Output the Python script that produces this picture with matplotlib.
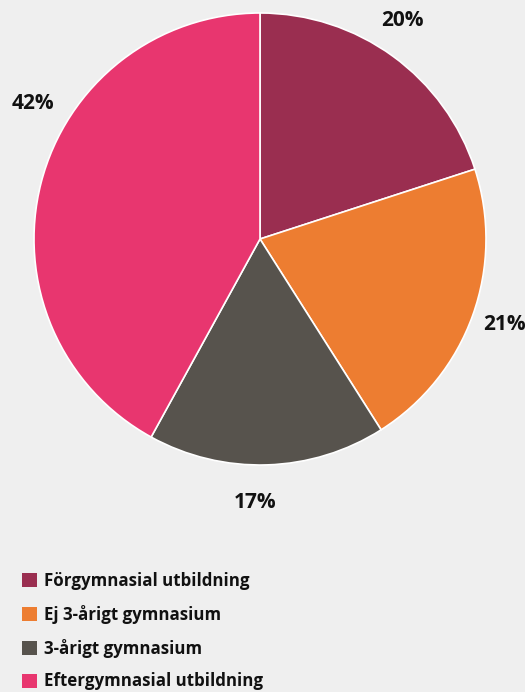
import matplotlib.pyplot as plt
from matplotlib.patches import Patch

labels = ["Förgymnasial utbildning", "Ej 3-årigt gymnasium",
          "3-årigt gymnasium", "Eftergymnasial utbildning"]
values = [20, 21, 17, 42]
colors = ["#9a2e50", "#ed7d31", "#57534d", "#e8366f"]

bg = "#efefef"
plt.rcParams["font.family"] = ["Open Sans", "DejaVu Sans"]

fig = plt.figure(figsize=(5.25, 6.92), dpi=100, facecolor=bg)
W, H = 525, 692
cx, cy, r = 260, 239, 226
ax = fig.add_axes([(cx - r) / W, (H - cy - r) / H, 2 * r / W, 2 * r / H])
ax.set_facecolor(bg)

wedges, texts, autotexts = ax.pie(
    values, colors=colors, startangle=90, counterclock=False,
    autopct="%d%%", pctdistance=1.16,
    wedgeprops=dict(edgecolor="white", linewidth=1.2),
    textprops=dict(fontsize=15, fontweight="bold", color="#111111"))
# label spots as in the original (not all on one radius)
label_pos = [(0.628, 0.969), (1.082, -0.380), (-0.022, -1.164), (-1.005, 0.600)]
for t, p in zip(autotexts, label_pos):
    t.set_position(p)
ax.set_xlim(-1, 1)
ax.set_ylim(-1, 1)
ax.axis("off")

handles = [Patch(facecolor=c, edgecolor="none") for c in colors]
fig.legend(handles, labels, loc="upper left",
           bbox_to_anchor=(7 / W, 1 - 557 / H), frameon=False,
           prop=dict(size=12.2, weight="bold"), labelspacing=0.87,
           handlelength=0.88, handleheight=0.88, handletextpad=0.4,
           labelcolor="#111111")

fig.savefig("out.png", facecolor=bg)
